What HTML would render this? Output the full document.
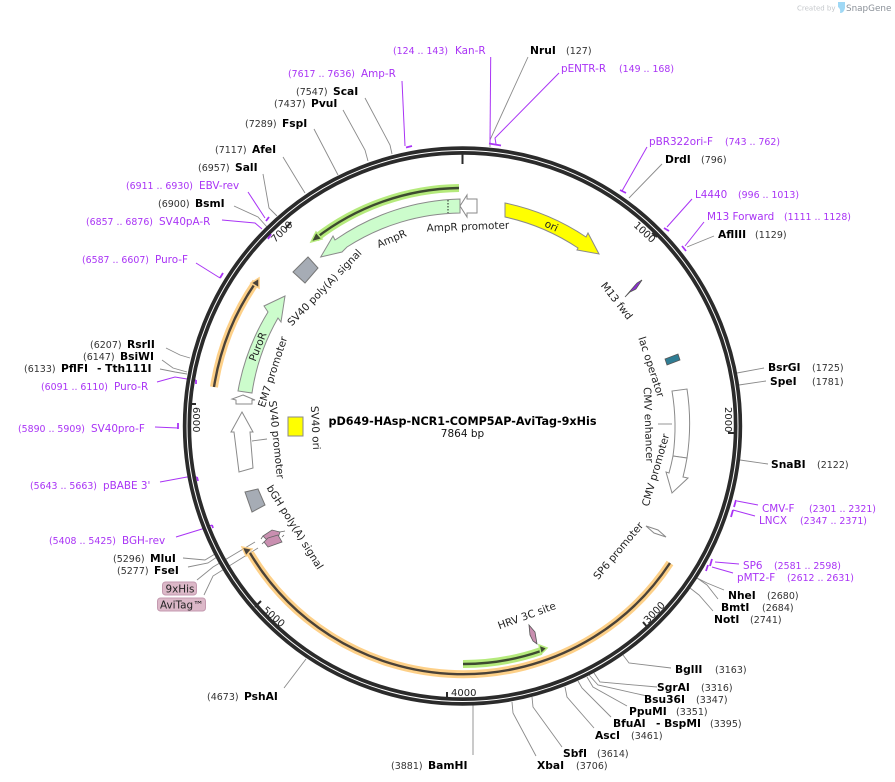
<!DOCTYPE html>
<html><head><meta charset="utf-8"><style>
html,body{margin:0;padding:0;background:#fff;}
svg{display:block;font-family:"DejaVu Sans","Liberation Sans",sans-serif;}
.n{font-weight:bold;font-size:10.7px;fill:#000;}
.g{font-size:9.5px;fill:#333;}
.m{font-size:10.4px;fill:#a933f5;}
.p{font-size:9.4px;fill:#a933f5;}
.f{font-size:10.4px;fill:#222;}
.t{font-size:10px;fill:#222;}
</style></head><body>
<svg width="895" height="782" viewBox="0 0 895 782" xmlns="http://www.w3.org/2000/svg">
<rect width="895" height="782" fill="#fff"/>
<!-- logo -->
<text x="797" y="10.500" font-size="7" fill="#c4c7cb">Created by</text>
<path d="M838 2h7v6q-1 5-5 5q1-4-2-6z" fill="#9fd8f5"/>
<text x="846" y="11" font-size="8.800" fill="#8a9098">SnapGene</text>

<!-- gray connector lines -->
<g fill="none" stroke="#8a8a8a" stroke-width="0.900">
<path d="M528 57L490 140L490 147"/>
<path d="M365 98L390 145L392 154"/>
<path d="M343 110L365 150L368 161"/>
<path d="M314 129L338 175"/>
<path d="M283 157L300 185L305 193"/>
<path d="M263 174L269 208L277 216"/>
<path d="M234 206L258 217L267 227"/>
<path d="M166 348L180 355L190 358"/>
<path d="M162 360L173 368L187 372"/>
<path d="M160 369L175 372L187 374"/>
<path d="M183 558L205 560L215 554"/>
<path d="M188 567L208 563L220 555"/>
<path d="M197 580L213 567L255 542"/>
<path d="M204 595L213 576L258 548"/>
<path d="M284 688L306 659"/>
<path d="M473 755L473 705"/>
<path d="M536 756L513 713L512 702"/>
<path d="M562 747L533 707L532 697"/>
<path d="M594 728L567 697L565 687"/>
<path d="M611 717L582 688L578 681"/>
<path d="M627 706L593 687L587 677"/>
<path d="M647 696L598 685L589 675"/>
<path d="M657 687L600 682L594 673"/>
<path d="M671 668L629 663L623 655"/>
<path d="M713 611L699 595L690 588"/>
<path d="M718 599L707 585L697 578"/>
<path d="M724 590L707 583L697 578"/>
<path d="M768 464L740 460"/>
<path d="M764 368L737 373"/>
<path d="M766 381L739 385"/>
<path d="M714 236L687 247"/>
<path d="M662 164L629 198"/>
<path d="M658 424L672 424"/>
<path d="M252 441L267 439"/>
</g>

<!-- purple connector lines -->
<g fill="none" stroke="#a933f5" stroke-width="1">
<path d="M490.700 57L490 143"/>
<path d="M559 73L495 138L496 144"/>
<path d="M402 81L405 146"/>
<path d="M248 192L265 218"/>
<path d="M222 220L255 223L262 229"/>
<path d="M196 263L220 278"/>
<path d="M157 382L175 377L187 379L196 380"/>
<path d="M155 427L178 428"/>
<path d="M160 482L187 477L197 477"/>
<path d="M176 537L202 529L212 525"/>
<path d="M733 573L712 567"/>
<path d="M739 564L715 562"/>
<path d="M758 505L737 501"/>
<path d="M755 516L733 510"/>
<path d="M704 222L685 246"/>
<path d="M692 199L667 227"/>
<path d="M647 147L622 191"/>
</g>
<g fill="none" stroke="#a933f5" stroke-width="1.800">
<path d="M489 143.500L501 145.500"/>
<path d="M406 147.500L412 146"/>
<path d="M266 221L269 217"/>
<path d="M268 239L271 234"/>
<path d="M220 278L223 273"/>
<path d="M196 380L196 384"/>
<path d="M178 423L178 429"/>
<path d="M197 477L198 481"/>
<path d="M212 525L213 528"/>
<path d="M712 559L710 566"/>
<path d="M708 565L706 571"/>
<path d="M736 500L734 507"/>
<path d="M733 510L731 517"/>
<path d="M682 246L686 251"/>
<path d="M664 228L669 231"/>
<path d="M620 190L626 193"/>
</g>

<!-- main ring -->
<circle cx="462.500" cy="426" r="275.500" fill="none" stroke="#2b2b2b" stroke-width="8.400"/>
<circle cx="462.500" cy="426" r="275.500" fill="none" stroke="#fff" stroke-width="1"/>

<!-- ticks -->
<g stroke="#2b2b2b" stroke-width="2" fill="none">
<path d="M462.500 152L462.500 164"/>
<path d="M657 237L652 233"/>
<path d="M735 433L728 433"/>
<path d="M648 628L643 622"/>
<path d="M447 699L447 692"/>
<path d="M255 607L261 601"/>
<path d="M190 404L196 404"/>
<path d="M291 222L286 228"/>
</g>
<text class="t" transform="translate(633,226) rotate(43)">1000</text>
<text class="t" transform="translate(725,407) rotate(90)">2000</text>
<text class="t" transform="translate(648,624) rotate(-46)">3000</text>
<text class="t" x="451" y="696">4000</text>
<text class="t" transform="translate(262,611) rotate(41)">5000</text>
<text class="t" transform="translate(193,407) rotate(90)">6000</text>
<text class="t" transform="translate(275,243) rotate(-44)">7000</text>

<!-- orange and green feature arcs -->
<g fill="none" stroke-linecap="butt">
<path d="M670 563A248 248 0 0 1 250 553" stroke="#fdd088" stroke-width="8"/>
<path d="M670 563A248 248 0 0 1 250 553" stroke="#4a4238" stroke-width="2.400"/>
<path d="M214 387A252 252 0 0 1 256 282" stroke="#fdd088" stroke-width="8"/>
<path d="M214 387A252 252 0 0 1 256 282" stroke="#4a4238" stroke-width="2.400"/>
<path d="M459 188A239 239 0 0 0 316 238" stroke="#b5ea7c" stroke-width="8"/>
<path d="M459 188A239 239 0 0 0 316 238" stroke="#3d4a30" stroke-width="2.400"/>
<path d="M463 664A237 237 0 0 0 541 651" stroke="#b5ea7c" stroke-width="8"/>
<path d="M463 664A237 237 0 0 0 541 651" stroke="#3d4a30" stroke-width="2.400"/>
</g>
<path d="M242 547L252 549L246 556Z" fill="#4a4238" stroke="#fdd088" stroke-width="1.500"/>
<path d="M259 278L259 288L251 283Z" fill="#4a4238" stroke="#fdd088" stroke-width="1.500"/>
<path d="M311 242L316 232L322 239Z" fill="#3d4a30" stroke="#b5ea7c" stroke-width="1.500"/>
<path d="M547 648L539 645L541 654Z" fill="#3d4a30" stroke="#b5ea7c" stroke-width="1.500"/>

<!-- directional features -->
<g stroke="#8a8a8a" stroke-width="1">
<path d="M460 199L460 213A214 214 0 0 0 347 247L342 252L320.700 257L333 236L335 240A228 228 0 0 1 460 199Z" fill="#ccfccc"/>
<path d="M505 203A228 228 0 0 1 586 237L588 233L599 254L577 250L578 248A214 214 0 0 0 505 217Z" fill="#ffff00"/>
<path d="M238 391A227 227 0 0 1 268 312L264 306L285 296L281 322L278 318A213 213 0 0 0 252 393Z" fill="#ccfccc"/>
<path d="M477 199L477 213L467 213L467 217L460 206L467 195L467 199Z" fill="#fff"/>
<path d="M672 391A213 213 0 0 1 673 456L687 458A228 228 0 0 0 687 389Z" fill="#fff"/>
<path d="M673 456A213 213 0 0 1 669 473L666 472L672 493L688 478L683 477A228 228 0 0 0 687 458Z" fill="#fff"/>
<path d="M243 395L255 400L252 400L252 404L236 404L236 400L232 399Z" fill="#fff"/>
<path d="M242 412L253 432L250 432L253 468L239 472L234 432L231 432Z" fill="#fff"/>
<path d="M646 526L658 530L666 537L654 533Z" fill="#fff"/>
</g>
<path d="M448 200L448 213" stroke="#222" stroke-width="1" stroke-dasharray="1.500 1.500"/>

<!-- other feature shapes -->
<path d="M288 417L303 417L303 436L288 436Z" fill="#ffff00" stroke="#8a8a8a" stroke-width="1"/>
<path d="M245 492L258 489L265 505L252 512Z" fill="#a6acb5" stroke="#777" stroke-width="1"/>
<path d="M308 257L318 268L305 283L293 272Z" fill="#a6acb5" stroke="#777" stroke-width="1"/>
<path d="M665 359L678 354L680 360L667 365Z" fill="#2f7d94" stroke="#555" stroke-width="0.800"/>
<path d="M642 280L637 283L625 297L630 292L636 289Z" fill="#8a2fd0" stroke="#555" stroke-width="0.800"/>
<path d="M529 625L535 632L537 644L533 641L530 635Z" fill="#c98fb0" stroke="#555" stroke-width="0.800"/>
<path d="M263 536L272 530L280 532L278 538L268 541Z" fill="#c98fb0" stroke="#666" stroke-width="0.800"/>
<path d="M264 542L268 547L282 542L278 535L268 538Z" fill="#c98fb0" stroke="#666" stroke-width="0.800"/>
<path d="M261 539L263 536M280 532L285 531M262 544L264 542M282 537L284 535" stroke="#666" stroke-width="0.800" fill="none"/>

<!-- feature labels -->
<text class="f" text-anchor="middle" transform="translate(393,242) rotate(-23)">AmpR</text>
<text class="f" text-anchor="middle" transform="translate(468,230) rotate(-2)">AmpR promoter</text>
<text class="f" text-anchor="middle" transform="translate(550,229) rotate(25)">ori</text>
<text class="f" text-anchor="middle" transform="translate(614,303) rotate(52)">M13 fwd</text>
<text class="f" text-anchor="middle" transform="translate(648,368) rotate(72)">lac operator</text>
<text class="f" text-anchor="middle" transform="translate(645,425) rotate(88)">CMV enhancer</text>
<text class="f" text-anchor="middle" transform="translate(659,471) rotate(-74)">CMV promoter</text>
<text class="f" text-anchor="middle" transform="translate(621,553) rotate(-50)">SP6 promoter</text>
<text class="f" text-anchor="middle" transform="translate(528,619) rotate(-20)">HRV 3C site</text>
<text class="f" text-anchor="middle" transform="translate(292,529) rotate(58)">bGH poly(A) signal</text>
<text class="f" text-anchor="middle" transform="translate(273,440) rotate(84)">SV40 promoter</text>
<text class="f" text-anchor="middle" transform="translate(312,428) rotate(87)">SV40 ori</text>
<text class="f" text-anchor="middle" transform="translate(276,373) rotate(-72)">EM7 promoter</text>
<text class="f" text-anchor="middle" transform="translate(261,348) rotate(-68)">PuroR</text>
<text class="f" text-anchor="middle" transform="translate(327,290) rotate(-46)">SV40 poly(A) signal</text>

<!-- title -->
<text x="462.500" y="425" text-anchor="middle" font-size="11.200" font-weight="bold" fill="#000">pD649-HAsp-NCR1-COMP5AP-AviTag-9xHis</text>
<text x="462.500" y="437" text-anchor="middle" font-size="10.500" fill="#111">7864 bp</text>

<!-- top and left labels -->
<text class="p" x="393" y="54">(124 .. 143)</text><text class="m" x="455" y="54">Kan-R</text>
<text class="n" x="530" y="54">NruI</text><text class="g" x="566" y="54">(127)</text>
<text class="m" x="561" y="72">pENTR-R</text><text class="p" x="619" y="72">(149 .. 168)</text>
<text class="p" x="288" y="77">(7617 .. 7636)</text><text class="m" x="361" y="77">Amp-R</text>
<text class="g" x="296" y="95">(7547)</text><text class="n" x="333" y="95">ScaI</text>
<text class="g" x="274" y="107">(7437)</text><text class="n" x="311" y="107">PvuI</text>
<text class="g" x="245" y="127">(7289)</text><text class="n" x="282" y="127">FspI</text>
<text class="g" x="215" y="153">(7117)</text><text class="n" x="252" y="153">AfeI</text>
<text class="g" x="198" y="171">(6957)</text><text class="n" x="235" y="171">SalI</text>
<text class="p" x="126" y="189">(6911 .. 6930)</text><text class="m" x="199" y="189">EBV-rev</text>
<text class="g" x="158" y="207">(6900)</text><text class="n" x="195" y="207">BsmI</text>
<text class="p" x="86" y="225">(6857 .. 6876)</text><text class="m" x="159" y="225">SV40pA-R</text>
<text class="p" x="82" y="263">(6587 .. 6607)</text><text class="m" x="155" y="263">Puro-F</text>
<text class="g" x="90" y="348">(6207)</text><text class="n" x="127" y="348">RsrII</text>
<text class="g" x="83" y="360">(6147)</text><text class="n" x="120" y="360">BsiWI</text>
<text class="g" x="24" y="372">(6133)</text><text class="n" x="61" y="372">PflFI</text><text class="n" x="97" y="372">- Tth111I</text>
<text class="p" x="41" y="390">(6091 .. 6110)</text><text class="m" x="114" y="390">Puro-R</text>
<text class="p" x="18" y="432">(5890 .. 5909)</text><text class="m" x="91" y="432">SV40pro-F</text>
<text class="p" x="30" y="489">(5643 .. 5663)</text><text class="m" x="103" y="489">pBABE 3'</text>
<text class="p" x="49" y="544">(5408 .. 5425)</text><text class="m" x="122" y="544">BGH-rev</text>
<text class="g" x="113" y="562">(5296)</text><text class="n" x="150" y="562">MluI</text>
<text class="g" x="117" y="574">(5277)</text><text class="n" x="154" y="574">FseI</text>
<rect x="162.500" y="582" width="34" height="13" rx="3" fill="#dcb8c8" stroke="#c49ab0"/>
<text x="165.500" y="592.500" font-size="10.400" fill="#222">9xHis</text>
<rect x="157.500" y="598" width="48" height="13" rx="3" fill="#dcb8c8" stroke="#c49ab0"/>
<text x="160" y="608.500" font-size="10.400" fill="#222">AviTag™</text>

<!-- bottom labels -->
<text class="g" x="207" y="700">(4673)</text><text class="n" x="244" y="700">PshAI</text>
<text class="g" x="391" y="769">(3881)</text><text class="n" x="428" y="769">BamHI</text>
<text class="n" x="537" y="769">XbaI</text><text class="g" x="576" y="769">(3706)</text>
<text class="n" x="563" y="757">SbfI</text><text class="g" x="597" y="757">(3614)</text>
<text class="n" x="595" y="739">AscI</text><text class="g" x="631" y="739">(3461)</text>
<text class="n" x="613" y="727">BfuAI</text><text class="n" x="656" y="727">- BspMI</text><text class="g" x="710" y="727">(3395)</text>
<text class="n" x="629" y="715">PpuMI</text><text class="g" x="676" y="715">(3351)</text>
<text class="n" x="644" y="703">Bsu36I</text><text class="g" x="696" y="703">(3347)</text>
<text class="n" x="657" y="691">SgrAI</text><text class="g" x="701" y="691">(3316)</text>
<text class="n" x="675" y="673">BglII</text><text class="g" x="715" y="673">(3163)</text>

<!-- right labels -->
<text class="n" x="714" y="623">NotI</text><text class="g" x="750" y="623">(2741)</text>
<text class="n" x="721" y="611">BmtI</text><text class="g" x="762" y="611">(2684)</text>
<text class="n" x="728" y="599">NheI</text><text class="g" x="767" y="599">(2680)</text>
<text class="m" x="737" y="581">pMT2-F</text><text class="p" x="787" y="581">(2612 .. 2631)</text>
<text class="m" x="743" y="569">SP6</text><text class="p" x="774" y="569">(2581 .. 2598)</text>
<text class="m" x="759" y="524">LNCX</text><text class="p" x="800" y="524">(2347 .. 2371)</text>
<text class="m" x="762" y="512">CMV-F</text><text class="p" x="809" y="512">(2301 .. 2321)</text>
<text class="n" x="771" y="468">SnaBI</text><text class="g" x="817" y="468">(2122)</text>
<text class="n" x="770" y="385">SpeI</text><text class="g" x="812" y="385">(1781)</text>
<text class="n" x="768" y="371">BsrGI</text><text class="g" x="812" y="371">(1725)</text>
<text class="n" x="718" y="238">AflIII</text><text class="g" x="755" y="238">(1129)</text>
<text class="m" x="707" y="220">M13 Forward</text><text class="p" x="784" y="220">(1111 .. 1128)</text>
<text class="m" x="695" y="198">L4440</text><text class="p" x="738" y="198">(996 .. 1013)</text>
<text class="n" x="665" y="163">DrdI</text><text class="g" x="701" y="163">(796)</text>
<text class="m" x="649" y="145">pBR322ori-F</text><text class="p" x="725" y="145">(743 .. 762)</text>
</svg>
</body></html>
